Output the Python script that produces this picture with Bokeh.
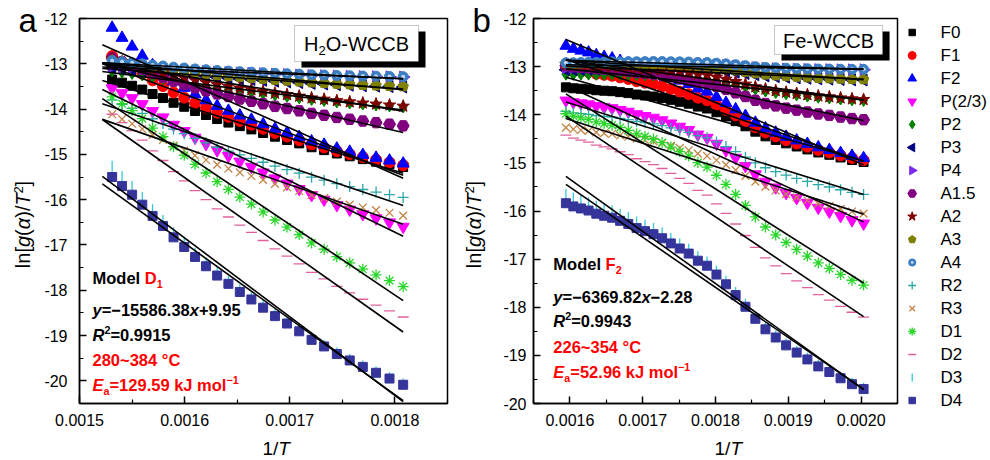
import numpy as np
from bokeh.plotting import figure
from bokeh.layouts import row, column
from bokeh.models import FixedTicker, Label, BoxAnnotation, ColumnDataSource
from bokeh.embed import file_html
from bokeh.resources import INLINE

# ---------------------------------------------------------------------------
# Conversion data: heating temperature (°C) and extent of conversion alpha
# ---------------------------------------------------------------------------
temp_a = [280, 284, 288, 292, 296, 300, 304, 308, 312, 316, 320, 324, 328,
          332, 336, 340, 344, 348, 352, 356, 360, 364, 368, 372, 376, 380]
alpha_a = [0.071, 0.0765, 0.082, 0.088, 0.095, 0.1025, 0.112, 0.121, 0.1335,
           0.146, 0.159, 0.175, 0.192, 0.209, 0.229, 0.251, 0.278, 0.3075,
           0.342, 0.3785, 0.4255, 0.471, 0.526, 0.579, 0.628, 0.681]

temp_b = [226, 230, 234, 238, 242, 246, 250, 254, 258, 262, 266, 270, 274,
          278, 282, 286, 290, 294, 298, 302, 306, 310, 314, 318, 322, 326,
          330, 334, 338, 342, 346, 350, 354]
alpha_b = [0.0776, 0.0822, 0.088, 0.0945, 0.1008, 0.109, 0.1177, 0.1275,
           0.139, 0.152, 0.170, 0.193, 0.218, 0.244, 0.270, 0.296, 0.3125,
           0.3365, 0.3552, 0.3749, 0.3957, 0.4134, 0.4275, 0.4421, 0.4618,
           0.4775, 0.4936, 0.505, 0.517, 0.5344, 0.547, 0.5595, 0.578]

# temperature windows (°C) used for the linear fits
fit_window_a = [280, 384]
fit_window_b = [226, 354]

# reported best-fit model of each sample
best_a = dict(model="D1", letter="D", sub="1", slope=-15586.38, intercept=9.95,
              r2="0.9915", ea="129.59")
best_b = dict(model="F2", letter="F", sub="2", slope=-6369.82, intercept=-2.28,
              r2="0.9943", ea="52.96")

sample_name = "WCCB"
prefix_b = "Fe-"

# axis ticks
xticks_a = [0.0015, 0.0016, 0.0017, 0.0018]
xticks_b = [0.0016, 0.0017, 0.0018, 0.0019, 0.0020]
yticks = [-12, -13, -14, -15, -16, -17, -18, -19, -20]

model_names = ["F0", "F1", "F2", "P(2/3)", "P2", "P3", "P4", "A1.5", "A2",
               "A3", "A4", "R2", "R3", "D1", "D2", "D3", "D4"]


def integral_forms(a):
    """Integral kinetic functions g(alpha) of the solid-state reaction models."""
    a = np.asarray(a, dtype=float)
    L = -np.log(1.0 - a)
    return {
        "F0": a, "F1": L, "F2": 1.0 / (1.0 - a) - 1.0,
        "P(2/3)": a ** 1.5, "P2": a ** 0.5, "P3": a ** (1 / 3), "P4": a ** 0.25,
        "A1.5": L ** (2 / 3), "A2": L ** 0.5, "A3": L ** (1 / 3), "A4": L ** 0.25,
        "R2": 1.0 - (1.0 - a) ** 0.5, "R3": 1.0 - (1.0 - a) ** (1 / 3),
        "D1": a ** 2, "D2": (1.0 - a) * np.log(1.0 - a) + a,
        "D3": (1.0 - (1.0 - a) ** (1 / 3)) ** 2,
        "D4": 1.0 - 2.0 * a / 3.0 - (1.0 - a) ** (2 / 3),
    }


STYLE = {
    "F0": dict(marker="square", color="#000000", size=9),
    "F1": dict(marker="circle", color="#FF0000", size=11),
    "F2": dict(marker="triangle", color="#0000FF", size=12),
    "P(2/3)": dict(marker="inverted_triangle", color="#FF00FF", size=12),
    "P2": dict(marker="diamond", color="#008000", size=12),
    "P3": dict(marker="triangle", color="#000080", size=12, angle=np.pi / 2),
    "P4": dict(marker="triangle", color="#7B2BF0", size=12, angle=-np.pi / 2),
    "A1.5": dict(marker="hex", color="#800080", size=12),
    "A2": dict(marker="star", color="#800000", size=13),
    "A3": dict(marker="pentagon", color="#808000", size=11),
    "A4": dict(marker="circle", color="#3B7EC2", size=10),
    "R2": dict(marker="cross", color="#2AA7A7", size=11, stroke=True),
    "R3": dict(marker="x", color="#C4854A", size=11, stroke=True),
    "D1": dict(marker="asterisk", color="#2BD62B", size=11, stroke=True),
    "D2": dict(marker="dash", color="#E0609E", size=11, stroke=True),
    "D3": dict(marker="dash", color="#35C8DA", size=11, stroke=True, angle=np.pi / 2),
    "D4": dict(marker="square", color="#34349B", size=9),
}

FONT = "Liberation Sans"
RED = "#FF0000"
MID = 0.35  # height of the text-box middle above the baseline, in em

# advance widths (em) of Arial-metric glyphs
REG = {'l': .222, 'n': .556, '[': .278, ']': .278, 'g': .556, '(': .333,
       ')': .333, 'α': .578, '/': .278, 'T': .611, 'H': .722, 'O': .778,
       '-': .333, 'W': .944, 'C': .722, 'B': .667, 'F': .611, 'e': .556}
BOLD = {'M': .833, 'o': .611, 'd': .611, 'e': .556, 'l': .278, ' ': .278,
        'D': .722, 'F': .611, 'y': .556, 'x': .556, '=': .584, '−': .584,
        '+': .584, '.': .278, 'R': .722, '~': .584, '°': .4, 'C': .722,
        'E': .667, 'a': .556, 'k': .556, 'J': .556, 'm': .889}


def text_width(s, widths):
    return sum(widths.get(c, .556) for c in s)


def add_runs(p, x, y, runs, size, widths, angle=0.0, align="left"):
    """Place a line of mixed-style text as consecutive labels; (x, y) is on the baseline."""
    total = sum(text_width(t, widths) * size * sc for t, _, _, sc, _ in runs)
    off = -total / 2 if align == "center" else 0.0
    for text, color, style, scale, rise in runs:
        fs = size * scale
        up = rise + MID * fs
        xo, yo = (off, up) if angle == 0 else (-up, off)
        p.add_layout(Label(x=x, y=y, x_offset=xo, y_offset=yo, text=text,
                           angle=angle, text_color=color, text_font=FONT,
                           text_font_size=f"{fs:.1f}px", text_font_style=style,
                           text_baseline="middle", text_align="left"))
        off += text_width(text, widths) * fs


def signed(v):
    s = f"{v:.2f}"
    return s.replace("-", "−") if v < 0 else "+" + s


def blank(width, height):
    """Figure without axes whose frame fills it; data units are pixels from top-left."""
    p = figure(width=width, height=height, x_range=(0, width), y_range=(height, 0),
               min_border=0, x_axis_type=None, y_axis_type=None, title=None,
               output_backend="svg", toolbar_location=None)
    p.outline_line_color = None
    p.xgrid.visible = False
    p.ygrid.visible = False
    return p


def add_markers(p, x, y, name, scale=1.0, source=None):
    st = STYLE[name]
    size = st["size"] * scale
    kw = dict(angle=st.get("angle", 0.0))
    if st.get("stroke"):
        kw.update(line_color=st["color"], line_width=1.3)
    else:
        kw.update(fill_color=st["color"], line_color=st["color"])
    data = dict(source=source) if source is not None else {}
    if st["marker"] == "pentagon":
        try:
            r = p.ngon(x=x, y=y, radius=size / 2, radius_units="screen", n=5,
                       fill_color=st["color"], line_color=st["color"], **data)
        except Exception:
            r = p.scatter(x=x, y=y, marker="hex", size=size, **kw, **data)
    else:
        r = p.scatter(x=x, y=y, marker=st["marker"], size=size, **kw, **data)
    if name == "A4":
        p.scatter(x=x, y=y, marker="circle", size=size * 0.4,
                  fill_color="#BFD6EE", line_color=None, **data)
    return r


FRAME_H = 385
TOP = 18
ROW_H = 436
FULL_H = 460


def make_panel(temps, alphas, window, best, xr, yr, xticks, frame_w, left,
               right, standoff, box_runs, box_px, text_px):
    p = figure(width=left + frame_w + right, height=ROW_H, x_range=xr, y_range=yr,
               min_border_left=left, min_border_right=right,
               min_border_top=TOP, min_border_bottom=ROW_H - TOP - FRAME_H,
               title=None, output_backend="svg", toolbar_location=None)
    p.xgrid.visible = False
    p.ygrid.visible = False
    p.outline_line_color = "black"
    p.outline_line_width = 1.5
    p.background_fill_color = "white"

    # frame pixel (from frame top-left) -> data coordinates, for annotations
    def to_data(px, py):
        return (xr[0] + px * (xr[1] - xr[0]) / frame_w,
                yr[1] - py * (yr[1] - yr[0]) / FRAME_H)

    xminor = [t + 0.00005 for t in xticks] + [xticks[0] - 0.00005]
    yminor = [t - 0.5 for t in yticks]
    p.xaxis.ticker = FixedTicker(ticks=xticks, minor_ticks=xminor)
    p.yaxis.ticker = FixedTicker(ticks=yticks, minor_ticks=yminor)
    p.xaxis.major_label_overrides = {t: f"{t:.4f}" for t in xticks}
    p.yaxis.major_label_overrides = {t: str(t) for t in yticks}
    for ax in (p.xaxis, p.yaxis):
        ax.major_tick_in = 7
        ax.major_tick_out = 0
        ax.minor_tick_in = 4
        ax.minor_tick_out = 0
        ax.axis_line_width = 1.5
        ax.major_tick_line_width = 1.5
        ax.minor_tick_line_width = 1.2
        ax.major_label_text_font = FONT
        ax.major_label_text_font_size = "16px"
        ax.major_label_text_color = "black"
        ax.axis_label_standoff = 0
    p.xaxis.major_label_standoff = 10
    p.yaxis.major_label_standoff = standoff

    T = np.asarray(temps, dtype=float) + 273.15
    x = 1.0 / T
    g = integral_forms(alphas)
    series = {}
    for name in model_names:
        y = np.log(g[name] / T ** 2)
        series[name] = y
        add_markers(p, "x", "y", name, source=ColumnDataSource(dict(x=x, y=y)))

    # linear fits over the temperature window
    xs = 1.0 / (np.asarray(window, dtype=float) + 273.15)
    lx, ly = [], []
    for name in model_names:
        if name == best["model"]:
            k, b = best["slope"], best["intercept"]
        else:
            k, b = np.polyfit(x, series[name], 1)
        lx.append(list(xs))
        ly.append(list(k * xs + b))
    p.multi_line(lx, ly, line_color="black", line_width=1.6)

    # sample box with drop shadow
    bl, bt, br, bb = box_px
    sl, st_ = to_data(bl + 7, bt + 6)
    sr, sb = to_data(br + 7, bb + 6)
    p.add_layout(BoxAnnotation(left=sl, right=sr, top=st_, bottom=sb,
                               fill_color="black", fill_alpha=1, line_color=None))
    l0, t0 = to_data(bl, bt)
    r0, b0 = to_data(br, bb)
    p.add_layout(BoxAnnotation(left=l0, right=r0, top=t0, bottom=b0,
                               fill_color="white", fill_alpha=1,
                               line_color="#444444", line_width=1))
    add_runs(p, *to_data((bl + br) / 2, box_runs[1]), box_runs[0], 20, REG,
             align="center")

    # fit summary
    tx, ty = text_px
    bs = 16.5
    lines = [
        [("Model ", "black", "bold", 1, 0), (best["letter"], RED, "bold", 1, 0),
         (best["sub"], RED, "bold", 0.65, -4)],
        [("y", "black", "bold italic", 1, 0),
         ("=" + signed(best["slope"]).lstrip("+"), "black", "bold", 1, 0),
         ("x", "black", "bold italic", 1, 0),
         (signed(best["intercept"]), "black", "bold", 1, 0)],
        [("R", "black", "bold italic", 1, 0), ("2", "black", "bold", 0.65, 7),
         ("=" + best["r2"], "black", "bold", 1, 0)],
        [(f"{window[0]}~{window[1]} °C", RED, "bold", 1, 0)],
        [("E", RED, "bold italic", 1, 0), ("a", RED, "bold", 0.65, -4),
         ("=" + best["ea"] + " kJ mol", RED, "bold", 1, 0),
         ("−1", RED, "bold", 0.65, 7)],
    ]
    for runs, yy in zip(lines, ty):
        add_runs(p, *to_data(tx, yy), runs, bs, BOLD)

    # x-axis title underneath
    xt = blank(left + frame_w + right, FULL_H - ROW_H)
    add_runs(xt, left + frame_w / 2, 19,
             [("1/", "black", "normal", 1, 0), ("T", "black", "italic", 1, 0)],
             19, REG, align="center")
    return column(p, xt, spacing=0)


def y_title(width, letter, letter_x, baseline_x, center_y):
    p = blank(width, FULL_H)
    runs = [("ln[", "black", "normal", 1, 0), ("g", "black", "italic", 1, 0),
            ("(", "black", "normal", 1, 0), ("α", "black", "italic", 1, 0),
            (")/", "black", "normal", 1, 0), ("T", "black", "italic", 1, 0),
            ("2", "black", "normal", 0.62, 7), ("]", "black", "normal", 1, 0)]
    add_runs(p, baseline_x, center_y, runs, 20, REG, angle=np.pi / 2, align="center")
    add_runs(p, letter_x, 32, [(letter, "black", "normal", 1, 0)], 33, REG)
    return p


# panel a: frame from x=79 to 447, panel b: frame from x=530 to 897
pa = make_panel(temp_a, alpha_a, fit_window_a, best_a,
                (0.0015, 0.00185), (-20.5, -12), xticks_a, 368, 42, 13, 12,
                ([("H", "black", "normal", 1, 0), ("2", "black", "normal", 0.65, -5),
                  ("O-" + sample_name, "black", "normal", 1, 0)], 32),
                (215, 7, 339, 43), (13, [265, 297, 322, 347, 372]))

pb = make_panel(temp_b, alpha_b, fit_window_b, best_b,
                (0.00155, 0.00205), (-20, -12), xticks_b, 367, 30, 2, 7,
                ([(prefix_b + sample_name, "black", "normal", 1, 0)], 29),
                (243, 7, 352, 36), (20, [251, 284, 308, 334, 359]))

ya = y_title(37, "a", 18, 29, 224)
yb = y_title(40, "b", 12, 20, 224)

# legend column
leg = blank(91, FULL_H)
for i, name in enumerate(model_names):
    cy = 32 + 23 * i
    add_markers(leg, [12.7], [cy], name, scale=0.72)
    leg.add_layout(Label(x=41, y=cy, text=name, text_font=FONT,
                         text_font_size="17px", text_color="black",
                         text_baseline="middle", text_align="left"))

layout = row(ya, pa, yb, pb, leg, spacing=0)
open("out.html", "w").write(file_html(layout, INLINE))
